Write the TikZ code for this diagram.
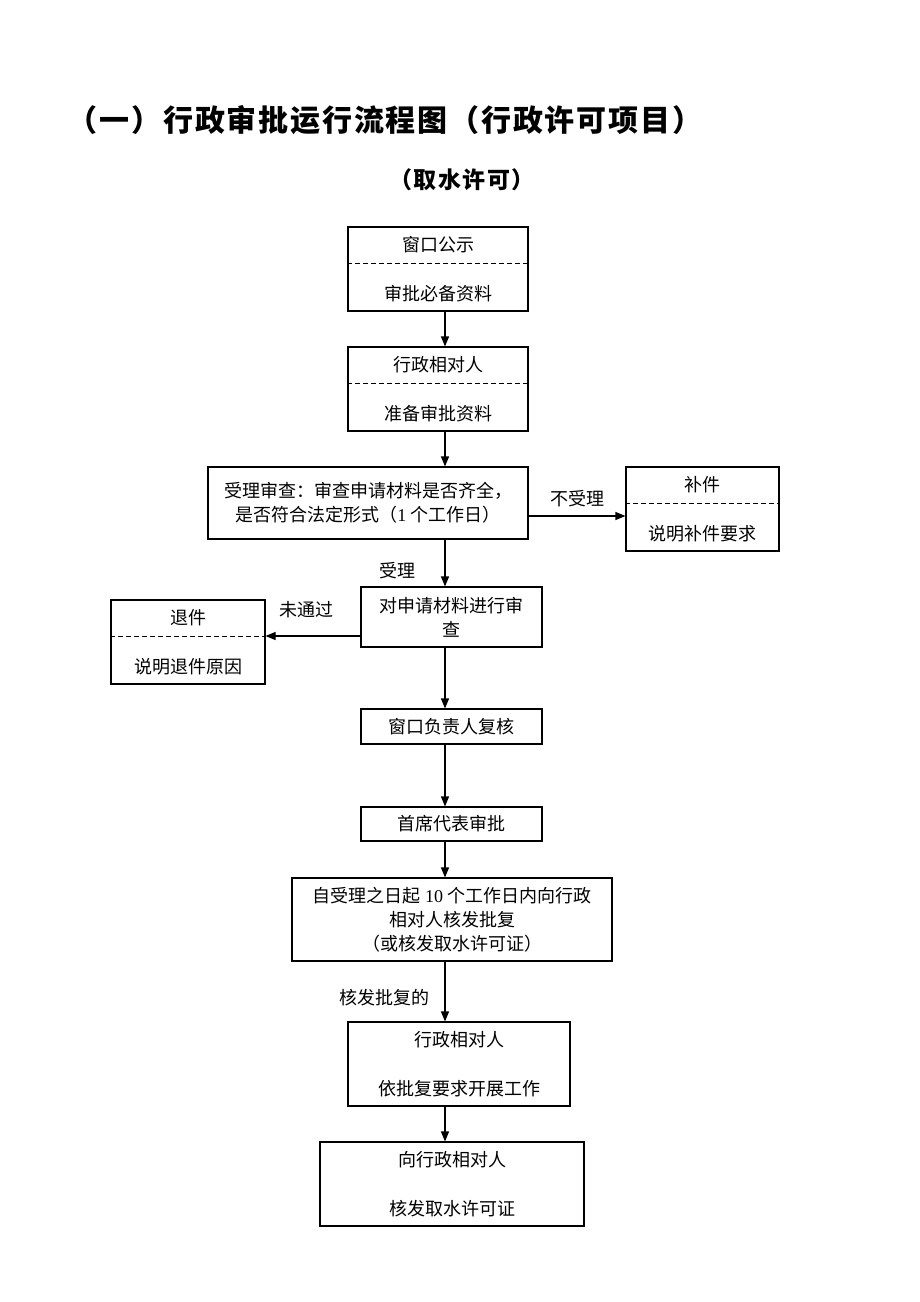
\documentclass[tikz,border=0pt]{standalone}
\usepackage{fontspec}
\setmainfont{Noto Sans CJK SC}
\newfontfamily\latin{Liberation Serif}
\newfontfamily\titlefont{Noto Sans CJK SC}[LetterSpace=6]
\usetikzlibrary{arrows.meta, positioning}

\begin{document}
\begin{tikzpicture}[x=1pt, y=1pt, >={Triangle[length=10pt,width=8pt]},
    box/.style={draw, line width=1.1pt, inner sep=2pt, align=center,
      font=\fontsize{18}{24}\selectfont},
    twopart/.style={box, font=\fontsize{18}{49}\selectfont},
    sepline/.style={dash pattern=on 5pt off 3pt, line width=0.9pt},
    flow/.style={->, line width=1.1pt},
    lbl/.style={font=\fontsize{18}{20}\selectfont}]
  \useasboundingbox (0,0) rectangle (920,-1302);

  % titles
  \node[font=\titlefont\fontsize{30}{34}\selectfont\bfseries] (title) at (385,-120) {（一）行政审批运行流程图（行政许可项目）};
  \node[font=\titlefont\fontsize{23}{26}\selectfont\bfseries] (subtitle) at (462,-180) {（取水许可）};

  % main column
  \node[twopart, minimum width=180, minimum height=84] (notice) at (438,-269) {窗口公示\\审批必备资料};
  \node[twopart, minimum width=180, minimum height=84] (applicant) at (438,-389) {行政相对人\\准备审批资料};
  \node[box, minimum width=320, minimum height=72] (accept) at (368,-503)
    {受理审查：审查申请材料是否齐全，\\是否符合法定形式（{\latin 1 }个工作日）};
  \node[box, minimum width=181, minimum height=60] (review) at (451.5,-617) {对申请材料进行审\\查};
  \node[box, minimum width=181, minimum height=35] (recheck) at (451.5,-726.5) {窗口负责人复核};
  \node[box, minimum width=181, minimum height=34] (chief) at (451.5,-824) {首席代表审批};
  \node[box, minimum width=320, minimum height=83] (reply) at (452,-919.5)
    {自受理之日起 {\latin 10} 个工作日内向行政\\相对人核发批复\\（或核发取水许可证）};
  \node[twopart, minimum width=222, minimum height=84] (work) at (459,-1064) {行政相对人\\依批复要求开展工作};
  \node[twopart, minimum width=264, minimum height=84] (permit) at (452,-1184) {向行政相对人\\核发取水许可证};

  % side boxes
  \node[twopart, minimum width=153, minimum height=84] (supply) at (702.5,-509) {补件\\说明补件要求};
  \node[twopart, minimum width=154, minimum height=84] (reject) at (188,-642) {退件\\说明退件原因};

  \foreach \b in {notice, applicant, supply, reject}
    \draw[sepline] ([yshift=6pt]\b.west) -- ([yshift=6pt]\b.east);

  % connectors
  \coordinate (spine) at (445,0);
  \draw[flow] (notice.south -| spine) -- (applicant.north -| spine);
  \draw[flow] (applicant.south -| spine) -- (accept.north -| spine);
  \draw[flow] (accept.south -| spine) -- node[lbl, pos=0.67, left=26pt] {受理} (review.north -| spine);
  \draw[flow] (review.south -| spine) -- (recheck.north -| spine);
  \draw[flow] (recheck.south -| spine) -- (chief.north -| spine);
  \draw[flow] (chief.south -| spine) -- (reply.north -| spine);
  \draw[flow] (reply.south -| spine) -- node[lbl, pos=0.6, left=12pt] {核发批复的} (work.north -| spine);
  \draw[flow] (work.south -| spine) -- (permit.north -| spine);

  \draw[flow] ([yshift=-13pt]accept.east) coordinate (no) -- node[lbl, above=5pt] {不受理} (no -| supply.west);
  \draw[flow] ([yshift=-19pt]review.west) coordinate (fail) -- node[lbl, above=14pt, xshift=-7pt] {未通过} (fail -| reject.east);
\end{tikzpicture}
\end{document}
